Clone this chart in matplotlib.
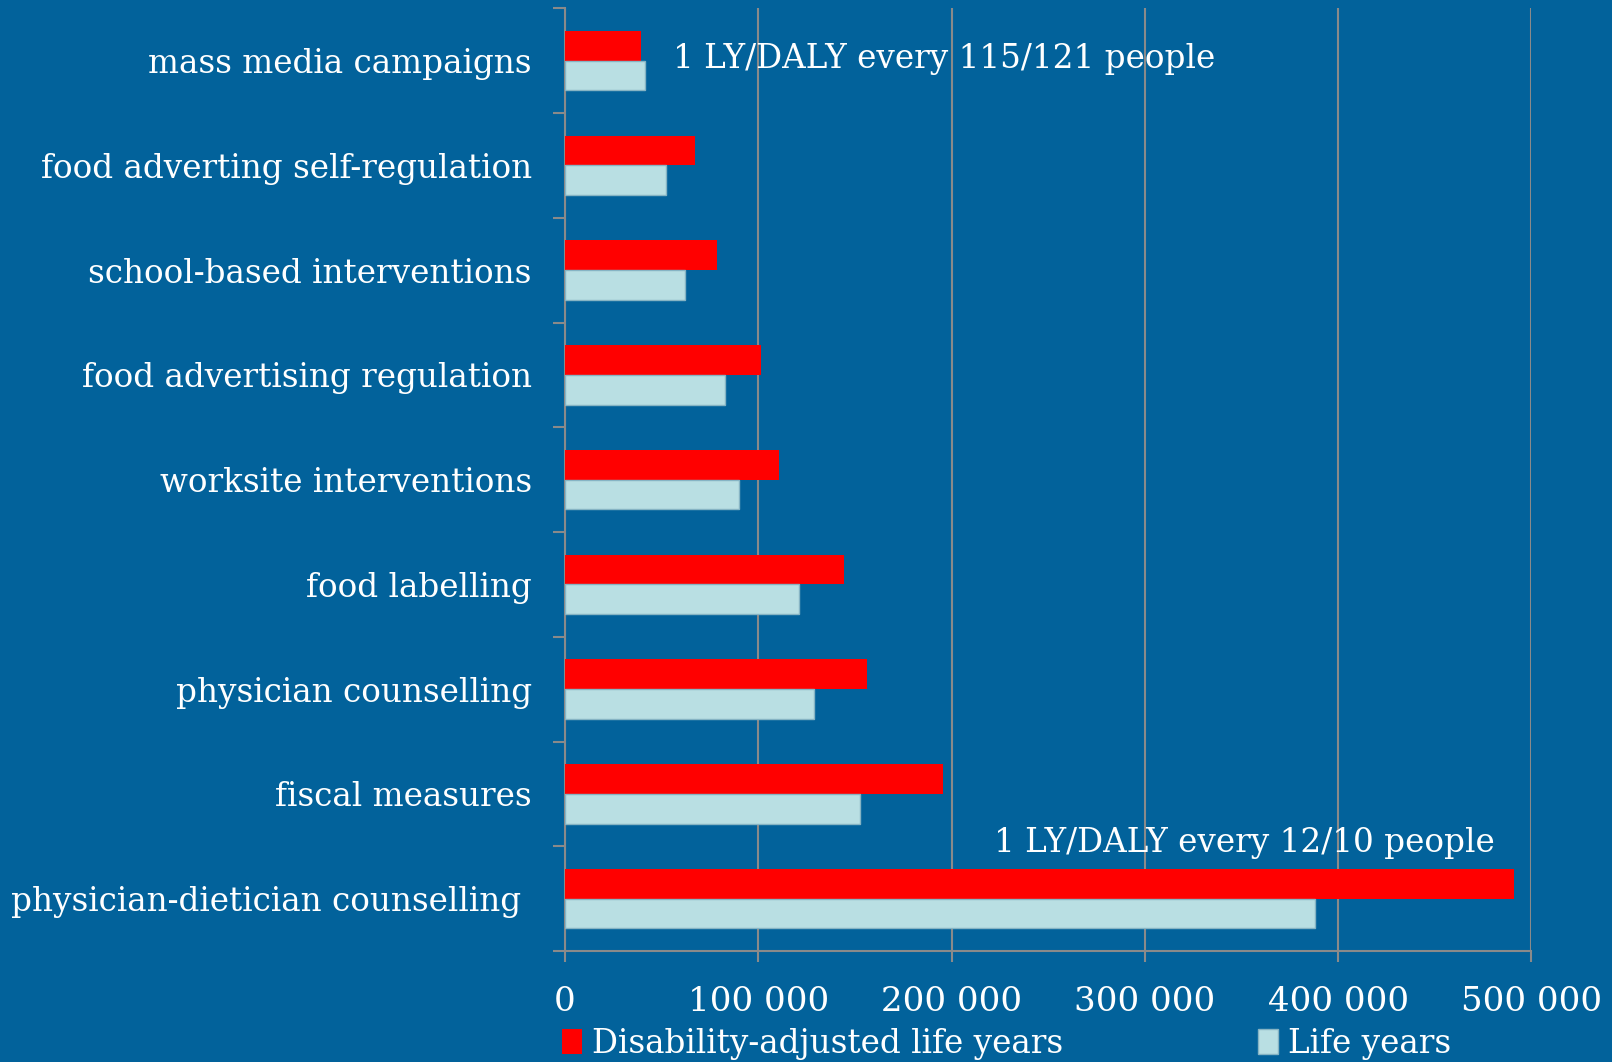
import matplotlib
matplotlib.use("Agg")
import matplotlib.pyplot as plt
import numpy as np
from matplotlib.ticker import FuncFormatter

plt.rcParams['font.family'] = ['DejaVu Serif']

interventions = ["mass media campaigns", "food adverting self-regulation",
                 "school-based interventions", "food advertising regulation",
                 "worksite interventions", "food labelling",
                 "physician counselling", "fiscal measures",
                 "physician-dietician counselling "]
daly = [39500, 67300, 78600, 101600, 110900, 144300, 156200, 195600, 491000]
life_years = [41400, 52100, 62300, 82900, 90200, 121200, 128800, 152800, 388200]
xticks = [0, 100000, 200000, 300000, 400000, 500000]

bg = "#02629b"
grey = "#8a8a8a"
fs = 23.5

fig = plt.figure(figsize=(16.12, 10.62), dpi=100, facecolor=bg)
ax = fig.add_axes([0.3505, 0.1045, 0.5995, 0.8877], facecolor=bg)

y = np.arange(len(interventions))
h = 0.284
ax.barh(y - h/2, daly, height=h, color="#ff0000", label="Disability-adjusted life years", zorder=3)
ax.barh(y + h/2, life_years, height=h, color="#b9dfe3", edgecolor="#86b4c4", linewidth=1,
        label="Life years", zorder=3)

ax.set_ylim(len(interventions) - 0.5, -0.5)
ax.set_xlim(0, 500000)

ax.set_yticks(y)
ax.set_yticklabels(interventions, fontsize=fs, color="white")
ax.set_yticks(np.arange(-0.5, len(interventions)), minor=True)
ax.tick_params(axis="y", which="major", length=0, pad=24)
ax.tick_params(axis="y", which="minor", length=8.5, width=1.5, color=grey, direction="out")

ax.set_xticks(xticks)
ax.xaxis.set_major_formatter(FuncFormatter(lambda v, p: "{:,}".format(int(v)).replace(",", " ")))
ax.tick_params(axis="x", length=8, width=1.5, color=grey, labelcolor="white", labelsize=24.5, pad=17)
ax.grid(axis="x", color=grey, linewidth=1.5, zorder=0)

for s in ["top", "right"]:
    ax.spines[s].set_visible(False)
for s in ["left", "bottom"]:
    ax.spines[s].set_color(grey)
    ax.spines[s].set_linewidth(1.5)

ax.text(56000, -0.02, "1 LY/DALY every 115/121 people", fontsize=fs, color="white", va="center")
ax.text(222000, 7.47, "1 LY/DALY every 12/10 people", fontsize=fs, color="white", va="center")

fig.legend(loc="lower left", bbox_to_anchor=(0.3305, -0.026), ncol=2, frameon=False,
           fontsize=fs, labelcolor="white", handlelength=0.6, handleheight=0.8,
           handletextpad=0.3, columnspacing=6.0)

fig.savefig("out.png", dpi=100, facecolor=bg)
